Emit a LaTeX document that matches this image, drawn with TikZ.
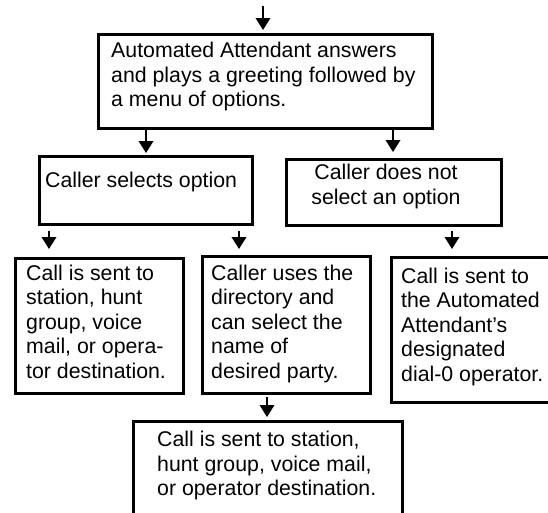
\documentclass[tikz,border=0pt]{standalone}
\usepackage{fontspec}
\setmainfont{Liberation Sans}
\usetikzlibrary{arrows.meta,calc}
\tikzset{
  box/.style={draw=black, line width=2.5pt, rectangle, inner sep=0pt, anchor=north west},
  txt/.style={anchor=north west, inner sep=0pt, align=left, font=\fontsize{21.3}{24.5}\selectfont},
  ctxt/.style={anchor=north, inner sep=0pt, align=center, font=\fontsize{21.3}{24.5}\selectfont},
  arr/.style={line width=2pt, -{Triangle[width=14.5pt,length=12pt]}}
}
\begin{document}
\begin{tikzpicture}[x=1pt,y=-1pt]
\useasboundingbox (0,0) rectangle (548,512);
\clip (0,0) rectangle (548,512);
% boxes
\node[box, minimum width=334pt, minimum height=94pt] (A) at (97,33) {};
\node[box, minimum width=213pt, minimum height=68pt] (B) at (38,155) {};
\node[box, minimum width=215pt, minimum height=66pt] (C) at (285,158) {};
\node[box, minimum width=168pt, minimum height=135pt] (D) at (14,257) {};
\node[box, minimum width=168pt, minimum height=137pt] (E) at (201,255) {};
\node[box, minimum width=180pt, minimum height=145pt] (F) at (390,256) {};
\node[box, minimum width=269pt, minimum height=120pt] (G) at (132,420) {};
% texts
\node[txt] (At) at (111,42.2) {Automated Attendant answers\\and plays a greeting followed by\\a menu of options.};
\node[txt] (Bt) at (45,172) {Caller selects option};
\node[ctxt] (Ct) at (386,164) {Caller does not\\select an option};
\node[txt] (Dt) at (26,264.7) {Call is sent to\\station, hunt\\group, voice\\mail, or opera-\\tor destination.};
\node[txt] (Et) at (211,264.7) {Caller uses the\\directory and\\can select the\\name of\\desired party.};
\node[txt] (Ft) at (401,267.5) {Call is sent to\\the Automated\\Attendant’s\\designated\\dial-0 operator.};
\node[txt] (Gt) at (157,431) {Call is sent to station,\\hunt group, voice mail,\\or operator destination.};
% connectors
\coordinate (in) at (263,6);
\draw[arr] (in) -- ($(in |- A.north)+(0,-3)$);
\draw[arr] ($(A.south west)+(49,0)$) -- ($(B.north west)+(108,-2)$);
\draw[arr] ($(A.south west)+(296,0)$) -- ($(C.north west)+(108,-6)$);
\draw[arr] ($(B.south west)+(11,5)$) -- ($(D.north west)+(35,-8)$);
\draw[arr] ($(B.south west)+(201,5)$) -- ($(E.north west)+(38,-6)$);
\draw[arr] ($(C.south west)+(167,4)$) -- ($(F.north west)+(62,-7)$);
\draw[arr] ($(E.south west)+(66,2)$) -- ($(G.north west)+(135,-3)$);
\end{tikzpicture}
\end{document}
